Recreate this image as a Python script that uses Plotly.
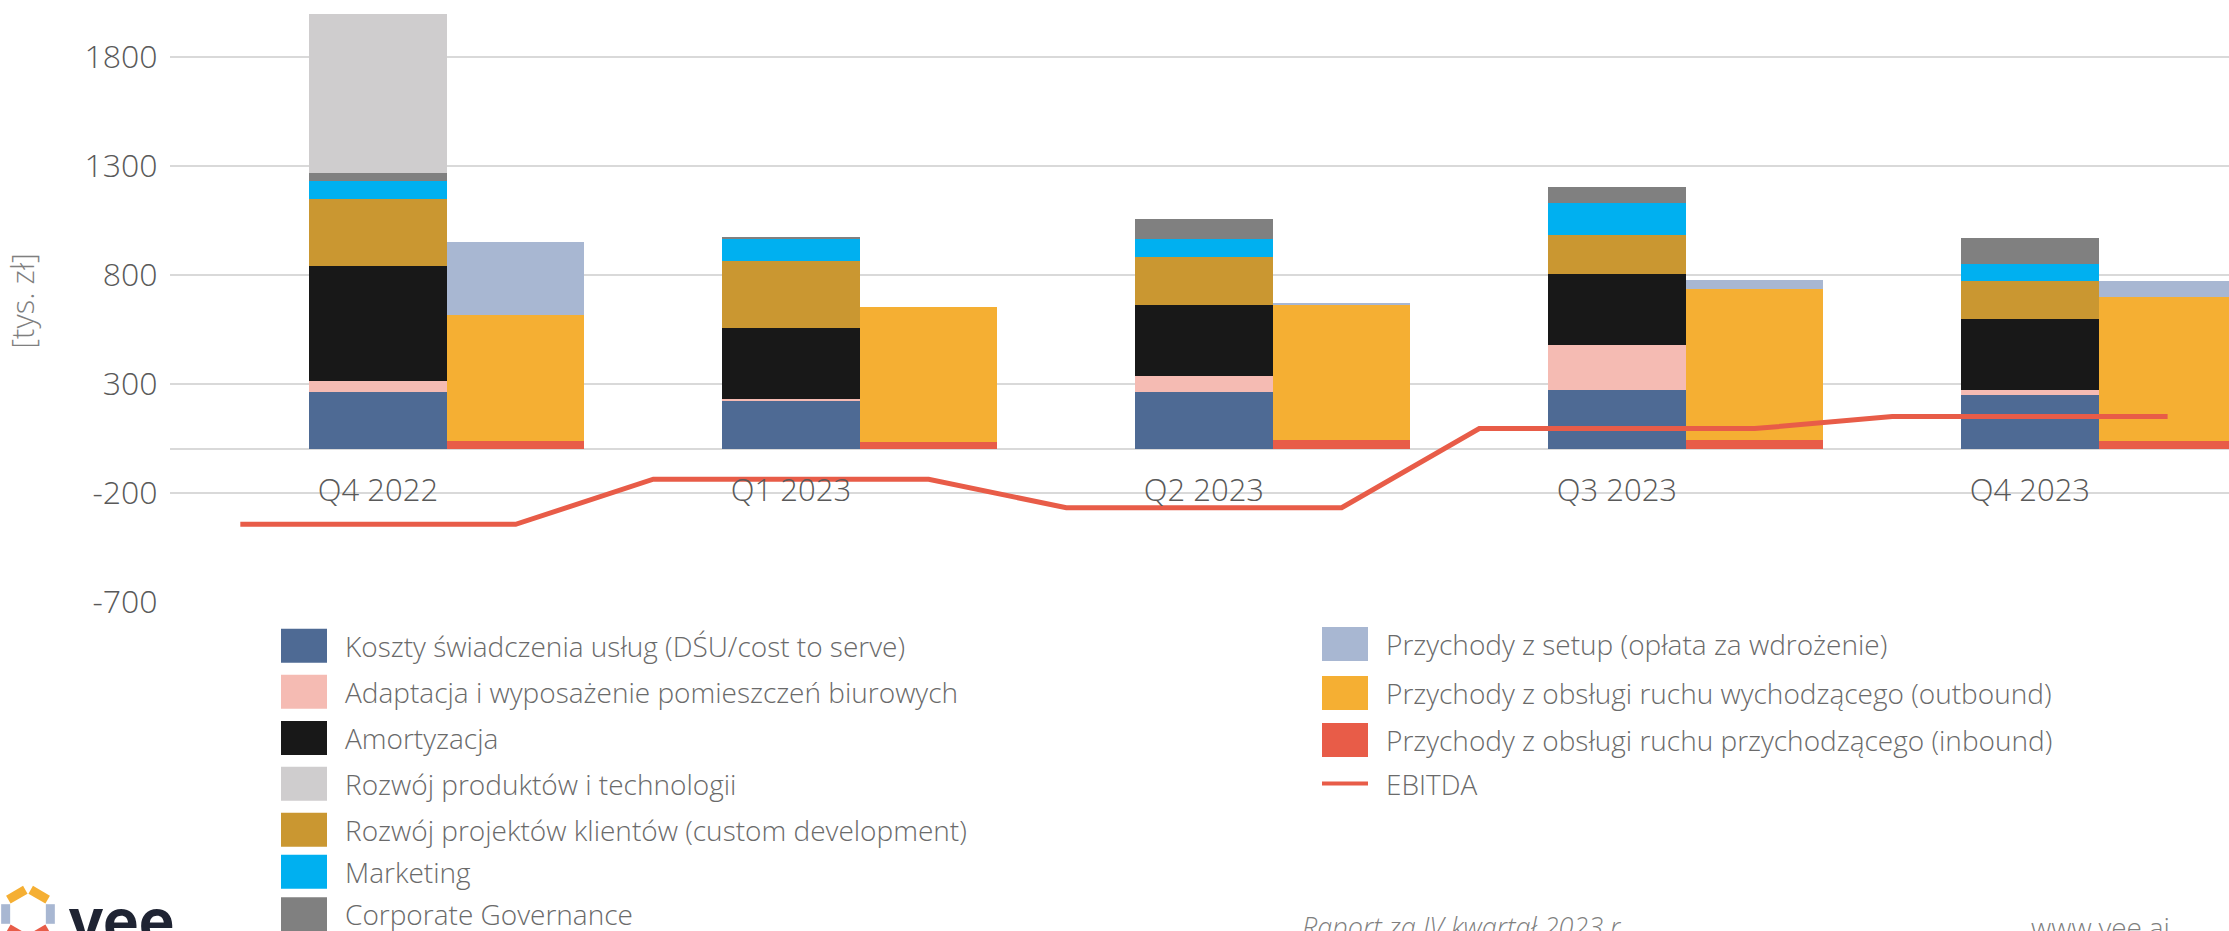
# Raport vee - koszty vs przychody kwartalne + EBITDA

import plotly.graph_objects as go

# dane [tys. zł]
kwartaly = ["Q4 2022", "Q1 2023", "Q2 2023", "Q3 2023", "Q4 2023"]

koszty_uslug = [261, 221, 264, 272, 251]
adaptacja = [54, 11, 72, 208, 21]
amortyzacja = [527, 326, 326, 326, 324]
rozwoj_produktow = [729, 0, 0, 0, 0]
rozwoj_projektow = [305, 304, 219, 175, 177]
marketing = [84, 101, 82, 147, 77]
corporate_gov = [36, 12, 92, 75, 119]

przych_setup = [332, 0, 8, 43, 73]
przych_outbound = [578, 618, 622, 691, 658]
przych_inbound = [39, 35, 41, 43, 39]

ebitda = [-344, -137, -268, 95, 150]

y_ticks = [-700, -200, 300, 800, 1300, 1800]

# kolejnosc jak w legendzie
koszty = [
    ("Koszty świadczenia usług (DŚU/cost to serve)", koszty_uslug, "#4E6A94"),
    ("Adaptacja i wyposażenie pomieszczeń biurowych", adaptacja, "#F5BBB3"),
    ("Amortyzacja", amortyzacja, "#181818"),
    ("Rozwój produktów i technologii", rozwoj_produktow, "#CFCDCE"),
    ("Rozwój projektów klientów (custom development)", rozwoj_projektow, "#CA9731"),
    ("Marketing", marketing, "#00B0F0"),
    ("Corporate Governance", corporate_gov, "#808080"),
]
# kolejnosc stosu (od dolu)
stos_kosztow = [0, 1, 2, 4, 5, 6, 3]

przychody = [
    ("Przychody z obsługi ruchu przychodzącego (inbound)", przych_inbound, "#E85C48"),
    ("Przychody z obsługi ruchu wychodzącego (outbound)", przych_outbound, "#F5AF33"),
    ("Przychody z setup (opłata za wdrożenie)", przych_setup, "#A8B7D2"),
]

W = 1 / 3  # szerokosc slupka w jednostkach kategorii
idx = list(range(len(kwartaly)))

fig = go.Figure()

for k in stos_kosztow:
    name, vals, col = koszty[k]
    fig.add_trace(go.Bar(x=idx, y=vals, name=name, width=W,
                         marker=dict(color=col, line=dict(width=0))))

for name, vals, col in przychody:
    fig.add_trace(go.Bar(x=[i + W for i in idx], y=vals, name=name, width=W,
                         marker=dict(color=col, line=dict(width=0))))

# EBITDA - odcinek poziomy na kazdy kwartal
ex, ey = [], []
for i, v in zip(idx, ebitda):
    ex += [i - W, i + W]
    ey += [v, v]
fig.add_trace(go.Scatter(x=ex, y=ey, mode="lines", name="EBITDA",
                         line=dict(color="#E85C48", width=5)))

# przeliczenie pikseli na wsp. paper
L, PW, PH = 170, 2059, 602


def px(x):
    return (x - L) / PW


def py(y):
    return 1 - y / PH


FONT = "Open Sans"
GREY = "#595959"
LEG = "#6A6A6A"

# legenda (reczna - duze kwadraty)
shapes = []
annots = []
lewa = [645.8, 691.8, 738, 783.7, 829.7, 871.8, 914.3]
for (name, vals, col), yc in zip(koszty, lewa):
    shapes.append(dict(type="rect", xref="paper", yref="paper",
                       x0=px(281), x1=px(327), y0=py(yc - 17), y1=py(yc + 17),
                       fillcolor=col, line=dict(width=0)))
    annots.append(dict(x=px(343), y=py(yc), xref="paper", yref="paper",
                       text=name, showarrow=False, xanchor="left", yanchor="middle",
                       font=dict(family=FONT, size=28, color=LEG, weight=300)))

prawa = [644, 693, 740]
for (name, vals, col), yc in zip(przychody[::-1], prawa):
    shapes.append(dict(type="rect", xref="paper", yref="paper",
                       x0=px(1322), x1=px(1368), y0=py(yc - 17), y1=py(yc + 17),
                       fillcolor=col, line=dict(width=0)))
    annots.append(dict(x=px(1384), y=py(yc), xref="paper", yref="paper",
                       text=name, showarrow=False, xanchor="left", yanchor="middle",
                       font=dict(family=FONT, size=28, color=LEG, weight=300)))
shapes.append(dict(type="line", xref="paper", yref="paper",
                   x0=px(1322), x1=px(1368), y0=py(783.5), y1=py(783.5),
                   line=dict(color="#E85C48", width=4)))
annots.append(dict(x=px(1384), y=py(783.5), xref="paper", yref="paper",
                   text="EBITDA", showarrow=False, xanchor="left", yanchor="middle",
                   font=dict(family=FONT, size=28, color=LEG, weight=300)))

# stopka
annots.append(dict(x=px(1300), y=py(906), xref="paper", yref="paper",
                   text="<i>Raport za IV kwartał 2023 r.</i>", showarrow=False,
                   xanchor="left", yanchor="top",
                   font=dict(family=FONT, size=27, color="#7F7F7F", weight=300)))
annots.append(dict(x=px(2029), y=py(906), xref="paper", yref="paper",
                   text="www.vee.ai", showarrow=False, xanchor="left", yanchor="top",
                   font=dict(family=FONT, size=28, color="#7F7F7F", weight=300)))

# logo vee
annots.append(dict(x=px(66), y=py(920), xref="paper", yref="paper",
                   text="<b>vee</b>", showarrow=False, xanchor="left", yanchor="middle",
                   font=dict(family="Inter", size=60, color="#1F2433")))
cx, cy, R = 28, 914, 30
hexp = [(cx, cy - R), (cx + 0.866 * R, cy - R / 2), (cx + 0.866 * R, cy + R / 2),
        (cx, cy + R), (cx - 0.866 * R, cy + R / 2), (cx - 0.866 * R, cy - R / 2)]
kolory_hex = ["#F5AF33", "#A8B7D2", "#E85C48", "#E85C48", "#A8B7D2", "#F5AF33"]
for k in range(6):
    (x0, y0), (x1, y1) = hexp[k], hexp[(k + 1) % 6]
    s = 0.12
    ax_, ay_ = x0 + (x1 - x0) * s, y0 + (y1 - y0) * s
    bx_, by_ = x1 - (x1 - x0) * s, y1 - (y1 - y0) * s
    # przesuniecie do srodka
    ax_ += (cx - ax_) * 0.14
    ay_ += (cy - ay_) * 0.14
    bx_ += (cx - bx_) * 0.14
    by_ += (cy - by_) * 0.14
    shapes.append(dict(type="line", xref="paper", yref="paper",
                       x0=px(ax_), y0=py(ay_), x1=px(bx_), y1=py(by_),
                       line=dict(color=kolory_hex[k], width=9)))

fig.update_layout(
    width=2229, height=931,
    margin=dict(l=L, r=0, t=0, b=329),
    barmode="relative",
    bargap=0,
    plot_bgcolor="white",
    paper_bgcolor="white",
    showlegend=False,
    font=dict(family=FONT, color=GREY, weight=300),
    shapes=shapes,
    annotations=annots,
    xaxis=dict(
        range=[-0.5036, 4.482],
        tickvals=idx, ticktext=kwartaly,
        anchor="free", position=700 / 2760,
        showgrid=False, zeroline=False, showline=False,
        ticks="outside", ticklen=13, tickcolor="rgba(0,0,0,0)",
        tickfont=dict(family=FONT, size=31, color=GREY, weight=300),
    ),
    yaxis=dict(
        range=[-700, 2060],
        tickvals=y_ticks, ticktext=[str(v) for v in y_ticks],
        showgrid=True, gridcolor="#D9D9D9", gridwidth=2,
        zeroline=True, zerolinecolor="#D9D9D9", zerolinewidth=2,
        ticks="outside", ticklen=5, tickcolor="rgba(0,0,0,0)",
        tickfont=dict(family=FONT, size=32, color=GREY, weight=300),
        title=dict(text="[tys. zł]", standoff=40,
                   font=dict(family=FONT, size=31, color="#7F7F7F", weight=300)),
    ),
)

fig.write_html("out.html", config={"displayModeBar": False},
               post_script="document.body.style.margin='0px';")
